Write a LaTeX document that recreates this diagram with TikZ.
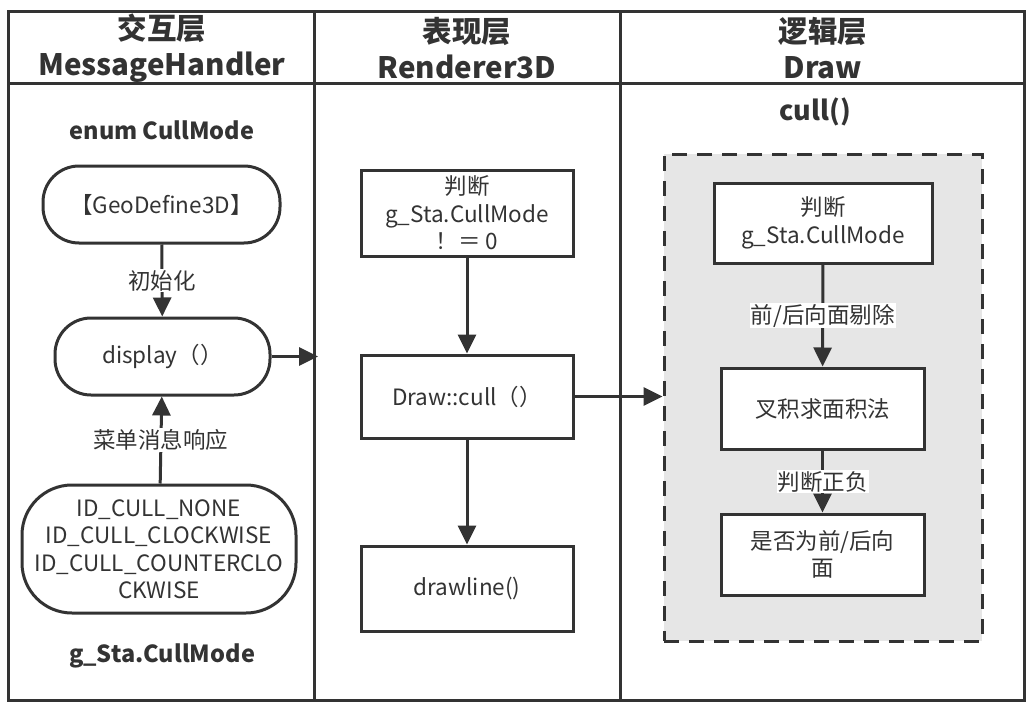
\documentclass[tikz,border=0pt]{standalone}
\usepackage{fontspec}
\setmainfont{Noto Sans CJK SC}
\usetikzlibrary{arrows.meta,positioning}
\definecolor{ink}{HTML}{333333}
\definecolor{shade}{HTML}{E6E6E6}

\begin{document}
\begin{tikzpicture}[x=1pt, y=-1pt,
   every node/.style={text=ink, font=\fontsize{22.5}{27.5}\selectfont, align=center},
   box/.style={draw=ink, line width=3pt, fill=white, inner sep=2pt},
   pill/.style={box, rounded corners=36pt},
   lanehead/.style={font=\bfseries\fontsize{29.5}{36}\selectfont},
   note/.style={font=\bfseries\fontsize{23.5}{27}\selectfont},
   tag/.style={fill=white, inner sep=1pt},
   arr/.style={draw=ink, line width=3pt, -{Triangle[length=19pt,width=18pt]}},
   laneline/.style={draw=ink, line width=3pt}]

\useasboundingbox (0,0) rectangle (1034,709);

% lanes
\draw[laneline] (8,12) rectangle (1024,700);
\draw[laneline] (314,12) -- (314,700) (620,12) -- (620,700);
\draw[laneline] (8,84) -- (1024,84);

\node[lanehead] (h1) at (162,48) {交互层\\MessageHandler};
\node[lanehead] (h2) at (467,48) {表现层\\Renderer3D};
\node[lanehead] (h3) at (823,48) {逻辑层\\Draw};

% MessageHandler
\node[note] (enum) at (162,130) {enum CullMode};
\node[pill, minimum width=237pt, minimum height=77pt] (geo) at (161.5,204.5) {【GeoDefine3D】};
\node[pill, minimum width=215pt, minimum height=77pt] (disp) at (162.5,356.5) {display（）};
\node[pill, rounded corners=50pt, minimum width=274pt, minimum height=128pt] (ids) at (159,549)
   {ID\_CULL\_NONE\\ID\_CULL\_CLOCKWISE\\ID\_CULL\_COUNTERCLO\\CKWISE};
\node[note] (mode) at (162,656) {g\_Sta.CullMode};
\coordinate (lane2) at (318,356.5);

\draw[arr] (geo) -- node[tag] {初始化} (disp);
\draw[arr] (ids) -- node[tag] {菜单消息响应} (disp);
\draw[arr] (disp) -- (lane2);

% Renderer3D
\node[box, minimum width=212pt, minimum height=86pt] (test) at (467,213) {判断\\g\_Sta.CullMode\\！＝ 0};
\node[box, minimum width=212pt, minimum height=83pt] (cull) at (467,396.5) {Draw::cull（）};
\node[box, minimum width=212pt, minimum height=85pt] (line) at (467,588.5) {drawline()};

\draw[arr] (test) -- (cull);
\draw[arr] (cull) -- (line);

% Draw
\node[note, font=\bfseries\fontsize{27}{30}\selectfont] (fn) at (815,112) {cull()};
\node[draw=ink, fill=shade, line width=3pt, dash pattern=on 15pt off 10pt,
      minimum width=318pt, minimum height=487pt] (zone) at (823,397.5) {};
\node[box, minimum width=218pt, minimum height=80pt] (test2) at (823,223) {判断\\g\_Sta.CullMode};
\node[box, minimum width=203pt, minimum height=81pt] (cross) at (822.5,408.5) {叉积求面积法};
\node[box, minimum width=203pt, minimum height=81pt] (face) at (822.5,554.5) {是否为前/后向\\面};

\draw[arr] (cull.east) -- (cull.east -| zone.west);
\draw[arr] (test2) -- node[tag] {前/后向面剔除} (cross);
\draw[arr] (cross) -- node[tag] {判断正负} (face);

\end{tikzpicture}
\end{document}
